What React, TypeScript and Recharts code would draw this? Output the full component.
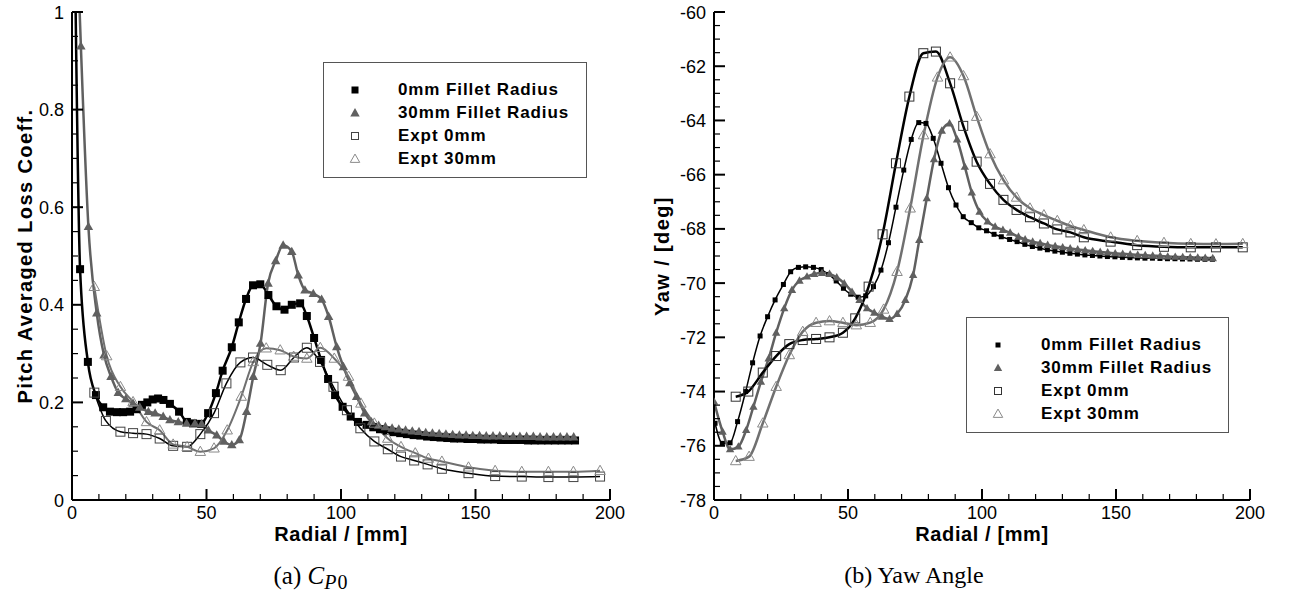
import React from 'react';
import { LineChart, Line, XAxis, YAxis, Legend, Label } from 'recharts';

const FONT = '"Liberation Sans", Arial, Helvetica, sans-serif';
const SERIF = '"Liberation Serif", "Times New Roman", serif';

type Pt = [number, number];

// axis ticks (majors get a label, the rest are minor ticks)
const radialTicks = [0, 10, 20, 30, 40, 50, 60, 70, 80, 90, 100, 110, 120, 130, 140, 150, 160, 170, 180, 190, 200];
const radialMajor = [0, 50, 100, 150, 200];
const lossTicks = [0, 0.05, 0.1, 0.15, 0.2, 0.25, 0.3, 0.35, 0.4, 0.45, 0.5, 0.55, 0.6, 0.65, 0.7, 0.75, 0.8, 0.85, 0.9, 0.95, 1];
const lossMajor = [0, 0.2, 0.4, 0.6, 0.8, 1];
const yawTicks = [
  -78, -77.5, -77, -76.5, -76, -75.5, -75, -74.5, -74, -73.5, -73, -72.5, -72, -71.5, -71, -70.5, -70, -69.5, -69,
  -68.5, -68, -67.5, -67, -66.5, -66, -65.5, -65, -64.5, -64, -63.5, -63, -62.5, -62, -61.5, -61, -60.5, -60,
];
const yawMajor = [-78, -76, -74, -72, -70, -68, -66, -64, -62, -60];

// (a) pitch averaged loss coefficient
const lossCfd0: Pt[] = [
  [0.8, 1.25], [3.0, 0.473], [5.9, 0.283], [8.9, 0.215], [11.6, 0.19], [14.1, 0.181], [16.7, 0.18], [19, 0.18],
  [21.6, 0.181], [24, 0.186], [26, 0.195], [28, 0.2], [30, 0.206], [32, 0.208], [34, 0.205], [36.4, 0.197],
  [39.8, 0.181], [42.7, 0.16], [45, 0.157], [48, 0.156], [50.6, 0.178], [53.5, 0.219], [56, 0.265], [59.4, 0.313],
  [62, 0.364], [64.7, 0.412], [67.3, 0.44], [70, 0.442], [73, 0.42], [76, 0.397], [79, 0.39], [81.7, 0.4],
  [84.8, 0.403], [87.3, 0.377], [90, 0.332], [92.6, 0.287], [95.2, 0.248], [97.8, 0.215], [100.6, 0.191],
  [103.6, 0.171], [106.3, 0.16], [109.5, 0.154], [112, 0.149], [114.5, 0.145], [117, 0.142], [119.5, 0.139],
  [122, 0.137], [124.5, 0.135], [127, 0.133], [129.5, 0.132], [132, 0.13], [134.5, 0.129], [137, 0.128],
  [139.5, 0.127], [142, 0.126], [144.5, 0.126], [147, 0.125], [149.5, 0.125], [152, 0.124], [154.5, 0.124],
  [157, 0.124], [159.5, 0.123], [162, 0.123], [164.5, 0.123], [167, 0.123], [169.5, 0.122], [172, 0.122],
  [174.5, 0.122], [177, 0.122], [179.5, 0.122], [182, 0.122], [184.5, 0.122], [187, 0.122],
];
const lossCfd30: Pt[] = [
  [2.2, 1.1], [3.3, 0.93], [6.1, 0.56], [9.2, 0.383], [11.9, 0.297], [14.5, 0.253], [17.2, 0.22], [20, 0.207],
  [22.7, 0.198], [25.2, 0.19], [28.4, 0.181], [30.9, 0.178], [33.9, 0.171], [36.4, 0.164], [39.5, 0.16],
  [42.6, 0.157], [45.7, 0.157], [48.2, 0.156], [50.7, 0.143], [53.8, 0.133], [56.5, 0.12], [59.4, 0.113],
  [62.2, 0.123], [64.9, 0.181], [67.4, 0.253], [70.1, 0.321], [72.9, 0.444], [75.7, 0.49], [78.5, 0.522],
  [81.7, 0.509], [84.1, 0.461], [86.6, 0.43], [89.7, 0.423], [92.8, 0.411], [95.4, 0.376], [98.4, 0.314],
  [100.9, 0.273], [103.3, 0.24], [105.8, 0.212], [108.8, 0.178], [111.3, 0.16], [114, 0.153], [116.5, 0.15],
  [119, 0.147], [121.5, 0.145], [124, 0.143], [126.5, 0.141], [129, 0.14], [131.5, 0.138], [134, 0.137],
  [136.5, 0.136], [139, 0.135], [141.5, 0.134], [144, 0.133], [146.5, 0.133], [149, 0.132], [151.5, 0.132],
  [154, 0.131], [156.5, 0.131], [159, 0.131], [161.5, 0.13], [164, 0.13], [166.5, 0.13], [169, 0.13],
  [171.5, 0.13], [174, 0.129], [176.5, 0.129], [179, 0.129], [181.5, 0.129], [184, 0.129], [186.5, 0.129],
];
const lossExp0: Pt[] = [
  [8.3, 0.22], [12.6, 0.162], [18, 0.14], [22.7, 0.137], [27.7, 0.135], [32.6, 0.126], [37.6, 0.111],
  [42.8, 0.109], [47.7, 0.135], [52.8, 0.178], [57.4, 0.239], [62.6, 0.282], [67.3, 0.292], [72.6, 0.277],
  [77.6, 0.266], [82.5, 0.292], [87.3, 0.312], [92.2, 0.283], [97.2, 0.232], [102.2, 0.184], [107.2, 0.147],
  [112.4, 0.12], [117.4, 0.104], [122.3, 0.089], [127.2, 0.081], [132.2, 0.073], [137.5, 0.064], [147.4, 0.055],
  [157.3, 0.049], [167.2, 0.048], [177.1, 0.047], [186.4, 0.047], [196.3, 0.048],
];
const lossExp30: Pt[] = [
  [8.3, 0.437], [12.9, 0.295], [18, 0.232], [22.7, 0.201], [27.7, 0.16], [32.6, 0.143], [37.6, 0.114],
  [42.8, 0.109], [47.7, 0.099], [52.8, 0.106], [57.7, 0.143], [62.9, 0.212], [67.4, 0.283], [72.2, 0.311],
  [77.4, 0.307], [82.4, 0.294], [87.3, 0.29], [92.3, 0.312], [97.5, 0.29], [102.8, 0.253], [107.4, 0.198],
  [112.4, 0.157], [117.4, 0.126], [122.3, 0.109], [127.6, 0.096], [132.5, 0.085], [137.5, 0.079], [147.4, 0.067],
  [157.3, 0.06], [167.2, 0.058], [177.1, 0.058], [186.4, 0.058], [196.3, 0.06],
];

// (b) yaw angle
const yawCfd0: Pt[] = [
  [0.4, -75.17], [3.1, -75.91], [6.0, -75.89], [8.8, -75.11], [11.8, -74.0], [14.4, -72.94], [17.2, -71.95],
  [20, -71.24], [22.8, -70.62], [25.9, -70.05], [28.6, -69.58], [31.5, -69.42], [34.2, -69.4], [37.1, -69.42],
  [40, -69.5], [42.8, -69.68], [45.6, -69.92], [48.3, -70.19], [51, -70.41], [53.8, -70.52], [56.6, -70.47],
  [59.5, -70.13], [62.3, -69.52], [65.1, -68.51], [67.9, -67.2], [70.8, -65.83], [73.6, -64.7], [76.4, -64.08],
  [79.1, -64.11], [81.8, -64.66], [84.7, -65.58], [87.5, -66.48], [90.3, -67.12], [93, -67.55], [96, -67.77],
  [98.8, -67.96], [101.7, -68.07], [104.5, -68.2], [107.2, -68.29], [110.3, -68.39], [113.1, -68.47],
  [116, -68.57], [118.8, -68.65], [121.6, -68.71], [124.4, -68.77], [127.2, -68.82], [130, -68.86],
  [132.8, -68.9], [135.6, -68.93], [138.4, -68.96], [141.2, -68.98], [144, -69.0], [146.8, -69.02],
  [149.6, -69.03], [152.4, -69.05], [155.2, -69.06], [158, -69.07], [160.8, -69.08], [163.6, -69.08],
  [166.4, -69.09], [169.2, -69.1], [172, -69.1], [174.8, -69.11], [177.6, -69.11], [180.4, -69.12],
  [183.2, -69.12], [186, -69.12],
];
const yawCfd30: Pt[] = [
  [0, -74.37], [3.2, -75.48], [6, -76.13], [9.1, -76.03], [12, -75.42], [14.7, -74.56], [17.5, -73.64],
  [20.4, -72.78], [23.2, -71.83], [26.2, -70.93], [29.1, -70.25], [31.9, -69.91], [34.7, -69.76], [37.4, -69.66],
  [40.3, -69.63], [43.1, -69.66], [45.8, -69.79], [48.6, -70.01], [51.5, -70.32], [54.3, -70.62], [57.1, -70.93],
  [59.8, -71.09], [62.7, -71.24], [65.5, -71.32], [68.3, -71.14], [71.4, -70.62], [74.3, -69.7], [76.6, -68.41],
  [79.4, -66.87], [82.1, -65.43], [85, -64.38], [87.9, -64.11], [90.7, -64.7], [93.6, -65.71], [96.2, -66.66],
  [99.1, -67.37], [102.1, -67.73], [104.9, -67.92], [107.8, -68.04], [110.5, -68.14], [113.6, -68.29],
  [116.1, -68.39], [118.9, -68.47], [121.7, -68.53], [124.5, -68.59], [127.3, -68.64], [130.1, -68.68],
  [132.9, -68.72], [135.7, -68.76], [138.5, -68.79], [141.3, -68.82], [144.1, -68.85], [146.9, -68.87],
  [149.7, -68.9], [152.5, -68.92], [155.3, -68.94], [158.1, -68.96], [160.9, -68.97], [163.7, -68.99],
  [166.5, -69.0], [169.3, -69.02], [172.1, -69.03], [174.9, -69.04], [177.7, -69.05], [180.5, -69.06],
  [183.3, -69.07], [186.1, -69.08],
];
const yawExp0: Pt[] = [
  [8.1, -74.19], [12.8, -74.0], [18.2, -73.3], [23.2, -72.69], [28.1, -72.25], [33.1, -72.1], [38.1, -72.06],
  [43.1, -72.0], [48.1, -71.83], [52.7, -71.3], [57.7, -70.13], [62.9, -68.2], [67.9, -65.58], [72.9, -63.12],
  [78.1, -61.52], [82.8, -61.46], [88.1, -62.63], [93, -64.2], [98, -65.52], [103, -66.34], [108, -66.93],
  [112.9, -67.3], [117.9, -67.57], [123.1, -67.8], [128.1, -68.02], [133, -68.13], [138, -68.31], [148, -68.47],
  [157.9, -68.6], [167.9, -68.66], [177.9, -68.68], [187.3, -68.68], [197.3, -68.68],
];
const yawExp30: Pt[] = [
  [8.1, -76.56], [13.1, -76.4], [18.2, -75.17], [23.2, -73.82], [28.1, -72.65], [33.1, -71.79], [38.1, -71.46],
  [43.1, -71.4], [48.1, -71.46], [53.1, -71.55], [58.3, -71.46], [63.3, -70.97], [68.3, -69.58], [73.2, -67.24],
  [78.2, -64.54], [83.4, -62.41], [88.1, -61.67], [93.1, -62.36], [98, -63.86], [103, -65.24], [108, -66.2],
  [112.9, -66.84], [117.9, -67.24], [123.1, -67.49], [128.1, -67.7], [133, -67.89], [138, -68.04], [148, -68.31],
  [157.9, -68.44], [167.9, -68.51], [177.9, -68.55], [187.3, -68.56], [197.3, -68.55],
];

const seriesNames = ['0mm Fillet Radius', '30mm Fillet Radius', 'Expt 0mm', 'Expt 30mm'];

type MarkerSpec = { shape: 'square' | 'triangle'; size: number; fill: string; stroke: string; sw: number };
type Series = { id: string; name: string; pts: Pt[]; stroke: string; width: number; marker: MarkerSpec; legendSize: number };

const GRAY = '#606060';

const lossSeries: Series[] = [
  { id: 'c0', name: seriesNames[0], pts: lossCfd0, stroke: '#000', width: 2.5, legendSize: 7,
    marker: { shape: 'square', size: 8, fill: '#000', stroke: '#000', sw: 0 } },
  { id: 'c30', name: seriesNames[1], pts: lossCfd30, stroke: GRAY, width: 2.5, legendSize: 9,
    marker: { shape: 'triangle', size: 9, fill: GRAY, stroke: GRAY, sw: 0 } },
  { id: 'e0', name: seriesNames[2], pts: lossExp0, stroke: '#000', width: 1.5, legendSize: 7,
    marker: { shape: 'square', size: 9, fill: 'none', stroke: '#444', sw: 1 } },
  { id: 'e30', name: seriesNames[3], pts: lossExp30, stroke: '#707070', width: 2, legendSize: 9,
    marker: { shape: 'triangle', size: 10, fill: 'none', stroke: '#8a8a8a', sw: 1 } },
];

const yawSeries: Series[] = [
  { id: 'c0', name: seriesNames[0], pts: yawCfd0, stroke: '#000', width: 1.5, legendSize: 5,
    marker: { shape: 'square', size: 5, fill: '#000', stroke: '#000', sw: 0 } },
  { id: 'c30', name: seriesNames[1], pts: yawCfd30, stroke: GRAY, width: 2.5, legendSize: 8,
    marker: { shape: 'triangle', size: 8, fill: GRAY, stroke: GRAY, sw: 0 } },
  { id: 'e0', name: seriesNames[2], pts: yawExp0, stroke: '#000', width: 2.5, legendSize: 7,
    marker: { shape: 'square', size: 9, fill: 'none', stroke: '#333', sw: 1 } },
  { id: 'e30', name: seriesNames[3], pts: yawExp30, stroke: '#707070', width: 2.5, legendSize: 9,
    marker: { shape: 'triangle', size: 10, fill: 'none', stroke: '#8a8a8a', sw: 1 } },
];

const isMajor = (v: number, majors: number[]) => majors.some((m) => Math.abs(m - v) < 1e-6);

function Marker({ cx, cy, m, size }: { cx: number; cy: number; m: MarkerSpec; size?: number }) {
  const s = size ?? m.size;
  const h = s / 2;
  if (m.shape === 'square') {
    return <rect x={cx - h} y={cy - h} width={s} height={s} fill={m.fill} stroke={m.stroke} strokeWidth={m.sw} />;
  }
  const pts = `${cx},${cy - h * 1.1} ${cx - h * 1.05},${cy + h * 0.75} ${cx + h * 1.05},${cy + h * 0.75}`;
  return <polygon points={pts} fill={m.fill} stroke={m.stroke} strokeWidth={m.sw} strokeLinejoin="miter" />;
}

const makeYTick = (majors: number[]) => (props: any) => {
  const { x, y, payload } = props;
  const major = isMajor(payload.value, majors);
  return (
    <g>
      <line x1={x} y1={y} x2={x + (major ? 11 : 6)} y2={y} stroke="#000" strokeWidth={major ? 2 : 1.2} />
      {major && (
        <text x={x - 8} y={y + 6.5} textAnchor="end" fontSize={18} fontFamily={FONT} fill="#000">
          {String(payload.value)}
        </text>
      )}
    </g>
  );
};

const makeXTick = (majors: number[]) => (props: any) => {
  const { x, y, payload } = props;
  const major = isMajor(payload.value, majors);
  return (
    <g>
      <line x1={x} y1={y} x2={x} y2={y - (major ? 11 : 6)} stroke="#000" strokeWidth={major ? 2 : 1.2} />
      {major && (
        <text x={x} y={y + 19} textAnchor="middle" fontSize={18} fontFamily={FONT} fill="#000">
          {String(payload.value)}
        </text>
      )}
    </g>
  );
};

function LegendBox({ series, width, height }: { series: Series[]; width: number; height: number }) {
  return (
    <div style={{ width, height, boxSizing: 'border-box', border: '1px solid #555', background: '#fff', position: 'relative' }}>
      {series.map((s, i) => (
        <div key={s.id} style={{ position: 'absolute', left: 0, top: 16 + i * 23, height: 22, width: '100%' }}>
          <svg width={20} height={22} style={{ position: 'absolute', left: 21, top: 0 }}>
            <Marker cx={10} cy={11} m={s.marker} size={s.legendSize} />
          </svg>
          <span style={{ position: 'absolute', left: 74, top: 0, lineHeight: '22px', fontFamily: FONT, fontWeight: 'bold',
            fontSize: 17, letterSpacing: 0.9, whiteSpace: 'nowrap', color: '#000' }}>
            {s.name}
          </span>
        </div>
      ))}
    </div>
  );
}

type PanelProps = {
  left: number;
  width: number;
  marginRight: number;
  yWidth: number;
  yDomain: [number, number];
  yTicks: number[];
  yMajor: number[];
  yTitle: string;
  yTitleOffset: number;
  series: Series[];
  legendPos: { left: number; top: number; width: number; height: number };
};

function Panel(p: PanelProps) {
  return (
    <div style={{ position: 'absolute', left: p.left, top: 0 }}>
      <LineChart width={p.width} height={560} margin={{ top: 12, right: p.marginRight, bottom: 0, left: 0 }}>
        <XAxis
          type="number"
          dataKey="x"
          domain={[0, 200]}
          ticks={radialTicks}
          interval={0}
          tickSize={0}
          tickMargin={0}
          tickLine={false}
          axisLine={{ stroke: '#000', strokeWidth: 2 }}
          tick={makeXTick(radialMajor)}
          height={60}
          allowDataOverflow
        >
          <Label value="Radial / [mm]" position="insideBottom" offset={19}
            style={{ fontFamily: FONT, fontWeight: 'bold', fontSize: 20, letterSpacing: 0.6, fill: '#000' }} />
        </XAxis>
        <YAxis
          type="number"
          domain={p.yDomain}
          ticks={p.yTicks}
          interval={0}
          tickSize={0}
          tickMargin={0}
          tickLine={false}
          axisLine={{ stroke: '#000', strokeWidth: 2 }}
          tick={makeYTick(p.yMajor)}
          width={p.yWidth}
          allowDataOverflow
        >
          <Label value={p.yTitle} angle={-90} position="insideLeft" offset={p.yTitleOffset}
            style={{ fontFamily: FONT, fontWeight: 'bold', fontSize: 20, letterSpacing: 1.4, fill: '#000', textAnchor: 'middle' }} />
        </YAxis>
        <Legend
          layout="horizontal"
          verticalAlign="middle"
          align="center"
          wrapperStyle={{ left: p.legendPos.left, top: p.legendPos.top, width: p.legendPos.width, height: p.legendPos.height }}
          content={() => <LegendBox series={p.series} width={p.legendPos.width} height={p.legendPos.height} />}
        />
        {p.series.map((s) => (
          <Line
            key={s.id}
            name={s.name}
            data={s.pts.map(([x, y]) => ({ x, y }))}
            dataKey="y"
            type="monotone"
            stroke={s.stroke}
            strokeWidth={s.width}
            isAnimationActive={false}
            dot={(d: any) => <Marker key={`${s.id}-${d.index}`} cx={d.cx} cy={d.cy} m={s.marker} />}
            activeDot={false}
          />
        ))}
      </LineChart>
    </div>
  );
}

export default function App() {
  return (
    <div style={{ position: 'absolute', left: 0, top: 0, width: 1294, height: 610, background: '#fff', overflow: 'hidden' }}>
      <Panel
        left={0}
        width={640}
        marginRight={30}
        yWidth={72}
        yDomain={[0, 1]}
        yTicks={lossTicks}
        yMajor={lossMajor}
        yTitle="Pitch Averaged Loss Coeff."
        yTitleOffset={25}
        series={lossSeries}
        legendPos={{ left: 323, top: 62, width: 264, height: 116 }}
      />
      <Panel
        left={640}
        width={654}
        marginRight={44}
        yWidth={74}
        yDomain={[-78, -60]}
        yTicks={yawTicks}
        yMajor={yawMajor}
        yTitle="Yaw / [deg]"
        yTitleOffset={22}
        series={yawSeries}
        legendPos={{ left: 326, top: 317, width: 263, height: 116 }}
      />
      <div style={{ position: 'absolute', left: 211, top: 562, width: 200, textAlign: 'center', fontFamily: SERIF, fontSize: 25, color: '#000' }}>
        (a) <i>C</i>
        <sub style={{ fontSize: 20, verticalAlign: -5, letterSpacing: 1 }}>
          <i>P</i>0
        </sub>
      </div>
      <div style={{ position: 'absolute', left: 814, top: 562, width: 200, textAlign: 'center', fontFamily: SERIF, fontSize: 24, color: '#000' }}>
        (b) Yaw Angle
      </div>
    </div>
  );
}
